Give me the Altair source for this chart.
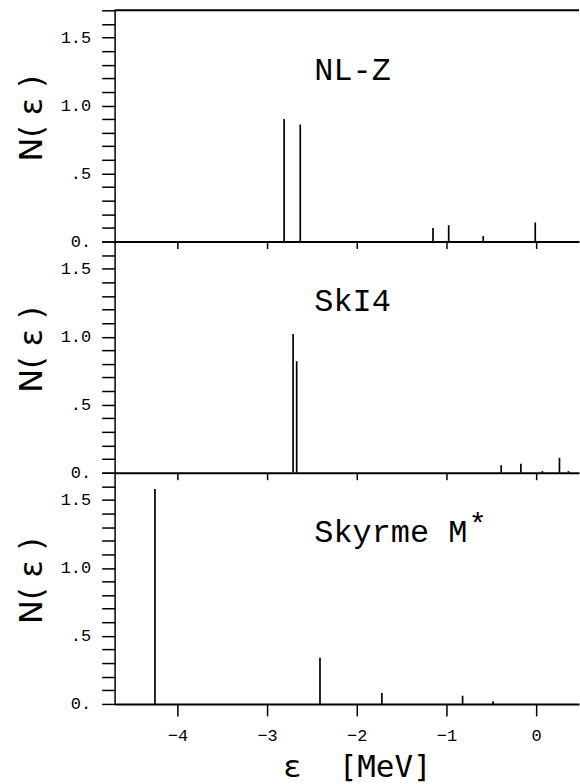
import altair as alt
import pandas as pd

# ---- data ----
NLZ_E = [-2.81, -2.63, -1.15, -0.975, -0.59, -0.01]
NLZ_N = [0.90, 0.86, 0.10, 0.12, 0.04, 0.14]

SKI4_E = [-2.71, -2.67, -0.39, -0.17, 0.07, 0.26, 0.36]
SKI4_N = [1.02, 0.82, 0.055, 0.066, 0.012, 0.11, 0.012]

SKM_E = [-4.25, -2.41, -1.72, -0.82, -0.48]
SKM_N = [1.58, 0.34, 0.08, 0.06, 0.02]

PANEL_LABELS = ["NL-Z", "SkI4", "Skyrme M"]
X_TICKS = [-4, -3, -2, -1, 0]
Y_TICKS = [round(i * 0.1, 1) for i in range(18)]

X_DOMAIN = [-4.7, 0.478]
Y_DOMAIN = [0, 1.7]
LABEL_X = -2.474
LABEL_Y = 1.19

W, H = 466, 232
FONT = "Liberation Mono"
NB = "\u00a0"

y_label_expr = ("datum.value == 0 ? '0.' : abs(datum.value - 0.5) < 1e-6 ? '.5' : "
                "abs(datum.value - 1) < 1e-6 ? '1.0' : abs(datum.value - 1.5) < 1e-6 ? '1.5' : ''")


def panel(E, N, label, bottom=False, top_rule=False, star=False):
    df = pd.DataFrame({"e": E, "n": N, "base": [0.0] * len(E)})
    if bottom:
        xaxis = alt.Axis(values=X_TICKS, tickCount=len(X_TICKS), tickSize=12, tickWidth=1.5,
                         domainWidth=2, domainColor="black", tickColor="black",
                         labelFont=FONT, labelFontSize=17, labelColor="black",
                         labelPadding=12, title="ε" + NB * 2 + "[MeV]",
                         titleFont="DejaVu Sans Mono", titleFontSize=31,
                         titleFontWeight="normal", titleColor="black", titlePadding=9,
                         titleX=W / 2 + 10, titleAlign="center",
                         grid=False, labelFlush=False, format="d")
    else:
        xaxis = alt.Axis(values=X_TICKS, tickCount=len(X_TICKS), tickSize=7, tickWidth=1.5,
                         domainWidth=2, domainColor="black", tickColor="black",
                         labels=False, title=None, grid=False)
    yaxis = alt.Axis(values=Y_TICKS, tickCount=len(Y_TICKS), labelExpr=y_label_expr,
                     tickSize=13, tickWidth=1.5, domainWidth=1.5, domainColor="black",
                     tickColor="black", labelFont=FONT, labelFontSize=17,
                     labelColor="black", labelPadding=11, labelFlush=False,
                     labelOverlap=False, title="N( ε )", titleFont="DejaVu Sans",
                     titleFontSize=32, titleFontWeight="normal", titleColor="black",
                     titlePadding=12, titleY=H / 2 - 8, grid=False)
    xs = alt.Scale(domain=X_DOMAIN, nice=False, zero=False)
    ys = alt.Scale(domain=Y_DOMAIN, nice=False)

    X = lambda f: alt.X(f, scale=xs, axis=xaxis)
    Y = lambda f: alt.Y(f, scale=ys, axis=yaxis)

    spikes = alt.Chart(df).mark_rule(color="black", strokeWidth=1.7).encode(
        x=X("e:Q"), y=Y("n:Q"), y2="base:Q",
    )
    ldf = pd.DataFrame({"x": [LABEL_X], "y": [LABEL_Y], "t": [label]})
    text = alt.Chart(ldf).mark_text(font=FONT, fontSize=32, align="left",
                                    baseline="alphabetic", color="black").encode(
        x=X("x:Q"), y=Y("y:Q"), text="t:N")
    layers = [spikes, text]
    if star:
        sdf = pd.DataFrame({"x": [LABEL_X], "y": [LABEL_Y], "t": ["*"]})
        layers.append(alt.Chart(sdf).mark_text(font=FONT, fontSize=30, align="left",
                                               baseline="alphabetic", dx=155, dy=-8,
                                               color="black").encode(
            x=X("x:Q"), y=Y("y:Q"), text="t:N"))
    if top_rule:
        rdf = pd.DataFrame({"y": [Y_DOMAIN[1]]})
        layers.append(alt.Chart(rdf).mark_rule(color="black", strokeWidth=2).encode(
            y=Y("y:Q")))
    return alt.layer(*layers).properties(width=W, height=H)


p1 = panel(NLZ_E, NLZ_N, PANEL_LABELS[0], top_rule=True)
p2 = panel(SKI4_E, SKI4_N, PANEL_LABELS[1])
p3 = panel(SKM_E, SKM_N, PANEL_LABELS[2], bottom=True, star=True)

chart = alt.vconcat(p1, p2, p3, spacing=0, bounds="flush").properties(
    padding={"left": 15, "top": 0, "right": 0, "bottom": 0},
    background="white",
).configure_view(stroke=None)

chart.save("out.html", embed_options={"renderer": "svg", "actions": False})
